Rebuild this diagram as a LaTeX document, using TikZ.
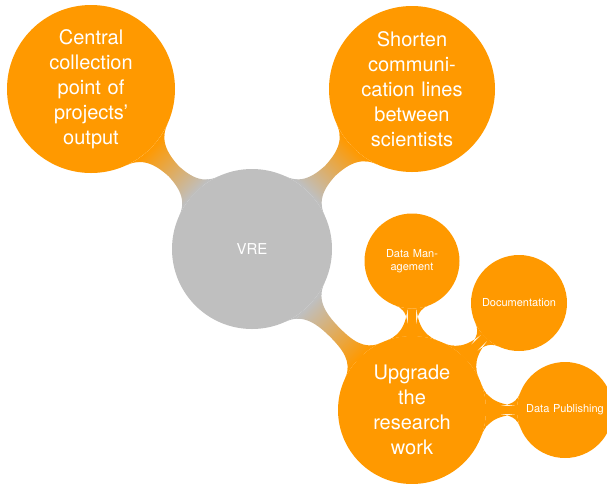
\documentclass[tikz,border=0pt]{standalone}
\usepackage{fontspec}
\setmainfont{TeX Gyre Heros}
\usetikzlibrary{mindmap,backgrounds}
\definecolor{vgray}{RGB}{191,191,191}
\definecolor{morange}{RGB}{255,153,0}
\tikzset{
  rootc/.style={concept, concept color=vgray, fill=vgray, draw=none, text=white,
    font=\fontsize{15}{18}\selectfont, text width=60pt, align=center, inner sep=0pt,
    minimum size=160pt},
  bigc/.style={concept, concept color=morange, fill=morange, draw=none, text=white,
    font=\fontsize{20}{25}\selectfont, text width=108pt, align=center, inner sep=0pt},
  smallc/.style={concept, concept color=morange, fill=morange, draw=none, text=white,
    font=\fontsize{11}{13}\selectfont, text width=82pt, align=center, inner sep=0pt},
  graybar/.style={circle connection bar switch color=from (vgray) to (morange)},
  orangebar/.style={circle connection bar switch color=from (morange) to (morange)}
}
\begin{document}
\begin{tikzpicture}[mindmap]
\useasboundingbox (0pt,0pt) rectangle (607pt,-483pt);
\node[rootc] (vre) at (252pt,-249pt) {VRE};
\node[bigc, minimum size=168pt] (cen) at (91pt,-89pt) {Central\\collection\\point of\\projects'\\output};
\node[bigc, minimum size=166pt] (sho) at (412pt,-89pt) {Shorten\\communi-\\cation lines\\between\\scientists};
\node[bigc, minimum size=148pt] (upg) at (412pt,-410pt) {Upgrade\\the\\research\\work};
\node[smallc, minimum size=95pt] (dm) at (412pt,-261pt) {Data Man-\\agement};
\node[smallc, minimum size=96pt] (doc) at (519pt,-303pt) {Documentation};
\node[smallc, minimum size=96pt] (dp) at (565pt,-410pt) {Data Publishing};
\begin{pgfonlayer}{background}
\path (vre) to[graybar] (cen);
\path (vre) to[graybar] (sho);
\path (vre) to[graybar] (upg);
\path (upg) to[orangebar] (dm);
\path (upg) to[orangebar] (doc);
\path (upg) to[orangebar] (dp);
\end{pgfonlayer}
\end{tikzpicture}
\end{document}
